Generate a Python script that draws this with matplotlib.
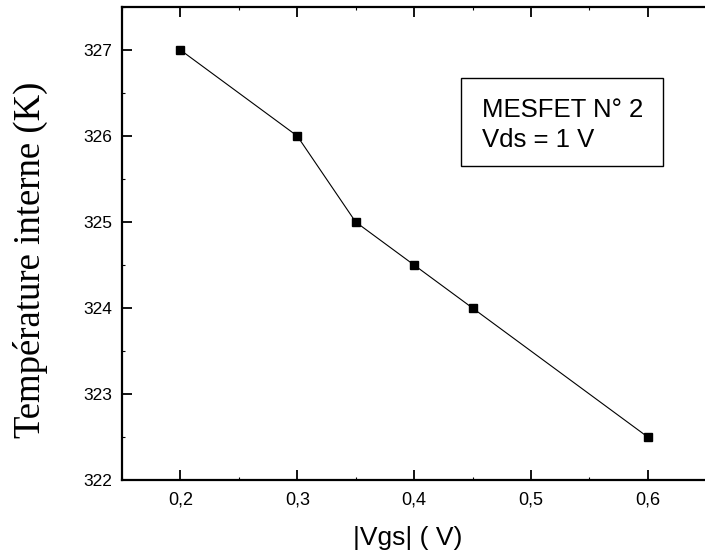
import matplotlib
matplotlib.use("Agg")
import matplotlib.pyplot as plt
from matplotlib.patches import Rectangle
from matplotlib.ticker import MultipleLocator

# data
vgs = [0.2, 0.3, 0.35, 0.4, 0.45, 0.6]
temp = [327, 326, 325, 324.5, 324, 322.5]
xticks = [0.2, 0.3, 0.4, 0.5, 0.6]
xticklabels = ["0,2", "0,3", "0,4", "0,5", "0,6"]
yticks = [322, 323, 324, 325, 326, 327]

sans = "Liberation Sans"
serif = "Liberation Serif"

fig = plt.figure(figsize=(7.05, 5.58), dpi=100)
ax = fig.add_axes([122 / 705, 1 - 480 / 558, 583 / 705, 473 / 558])

ax.plot(vgs, temp, color="black", lw=0.8, marker="s", ms=6, mfc="black", mec="black")

ax.set_xlim(0.15, 0.649)
ax.set_ylim(322, 327.5)
ax.set_xticks(xticks)
ax.set_xticklabels(xticklabels, fontfamily=sans, fontsize=13)
ax.set_yticks(yticks)
ax.set_yticklabels([str(v) for v in yticks], fontfamily=sans, fontsize=12.5)
ax.xaxis.set_minor_locator(MultipleLocator(0.05))
ax.yaxis.set_minor_locator(MultipleLocator(0.5))
ax.tick_params(which="major", direction="in", length=7, width=1.3)
ax.tick_params(which="minor", direction="in", length=2.5, width=0.8)
ax.tick_params(axis="x", which="both", top=True, pad=8)
ax.tick_params(axis="y", which="both", pad=7)

for side in ["left", "bottom", "top"]:
    ax.spines[side].set_linewidth(1.6)
ax.spines["right"].set_visible(False)

ax.set_xlabel("|Vgs| ( V)", fontfamily=sans, fontsize=19)
ax.xaxis.set_label_coords(0.49, -0.098)
ax.set_ylabel("Température interne (K)", fontfamily=serif, fontsize=26.5, va="center")
ax.yaxis.set_label_coords((30 - 122) / 583, 0.465)

# annotation box
ax.add_patch(Rectangle((0.5815, 0.664), 0.3465, 0.186, transform=ax.transAxes,
                       fill=False, edgecolor="black", lw=1))
ax.text(0.6175, 0.767, "MESFET N° 2", transform=ax.transAxes, fontfamily=sans,
        fontsize=18.5, va="baseline")
ax.text(0.6175, 0.704, "Vds = 1 V", transform=ax.transAxes, fontfamily=sans,
        fontsize=18.5, va="baseline")

fig.savefig("out.png", dpi=100)
